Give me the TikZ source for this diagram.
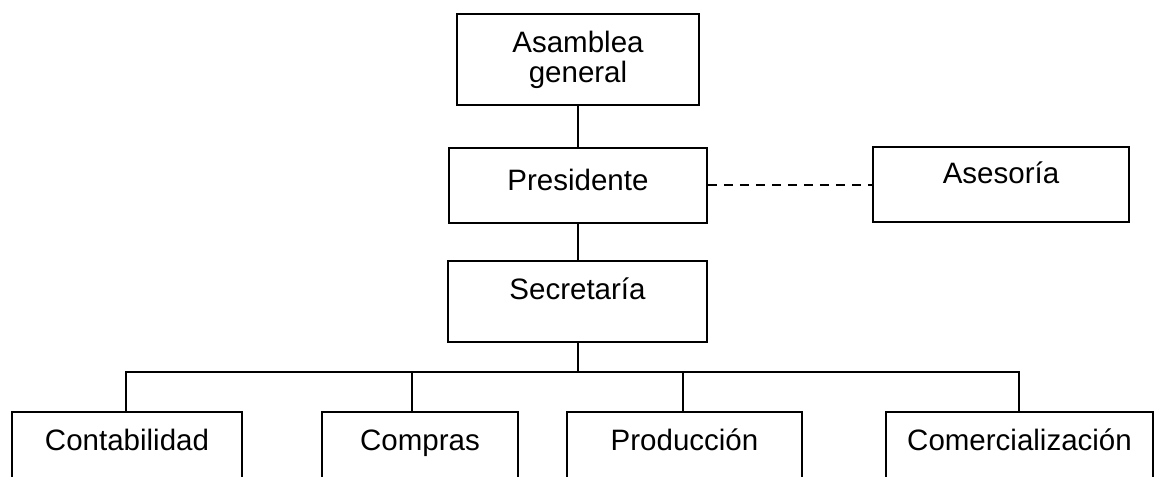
\documentclass[tikz,border=0pt]{standalone}
\usepackage{fontspec}
\setmainfont{Liberation Sans}
\begin{document}
\begin{tikzpicture}[x=1pt,y=-1pt,
  box/.style={draw=black, line width=1.8pt, inner sep=0pt, fill=white,
    font=\fontsize{29.5}{30}\selectfont},
  conn/.style={draw=black, line width=1.6pt},
  dashconn/.style={draw=black, line width=1.6pt, dash pattern=on 9pt off 7pt}]
\useasboundingbox (0,0) rectangle (1155,476);
\clip (0,0) rectangle (1155,476);
\fill[white] (0,0) rectangle (1155,476);
% top level
\node[box, align=center, minimum width=242pt, minimum height=91pt] (asam) at (578,59.5) {Asamblea\\general};
\node[box, minimum width=258pt, text height=42pt, text depth=33pt, anchor=base] (pres) at (578,190) {Presidente};
\node[box, minimum width=256pt, text height=36pt, text depth=39pt, anchor=base] (ases) at (1001,183) {Asesoría};
\node[box, minimum width=259pt, text height=38pt, text depth=43pt, anchor=base] (secr) at (577.5,299) {Secretaría};
% bottom row
\node[box, minimum width=230pt, text height=38pt, text depth=45pt, anchor=base] (cont) at (127,450) {Contabilidad};
\node[box, minimum width=196pt, text height=38pt, text depth=45pt, anchor=base] (comp) at (420,450) {Compras};
\node[box, minimum width=235pt, text height=38pt, text depth=45pt, anchor=base] (prod) at (684.5,450) {Producción};
\node[box, minimum width=267pt, text height=38pt, text depth=45pt, anchor=base] (come) at (1019.5,450) {Comercialización};
% bus coordinates
\coordinate (busL) at (126,372);
\coordinate (busR) at (1019,372);
\coordinate (busS) at (578,372);
\coordinate (busC) at (412,372);
\coordinate (busP) at (683,372);
% connectors
\draw[conn] (asam.south) -- (pres.north);
\draw[conn] (pres.south) -- (secr.north -| pres.south);
\draw[dashconn] (pres.east |- 0,185) -- (ases.west |- 0,185);
\draw[conn] (secr.south -| busS) -- (busS);
\draw[conn] (busL |- cont.north) -- (busL) -- (busR) -- (busR |- come.north);
\draw[conn] (busC) -- (busC |- comp.north);
\draw[conn] (busP) -- (busP |- prod.north);
\end{tikzpicture}
\end{document}
